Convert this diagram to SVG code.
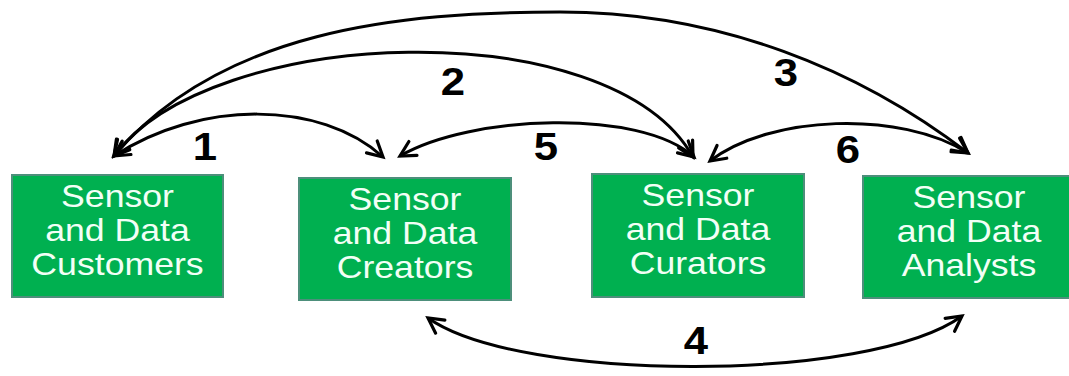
<svg xmlns="http://www.w3.org/2000/svg" width="1069" height="376" viewBox="0 0 1069 376">
  <defs>
    <!-- open chevron arrowhead, reused at both ends of every connector -->
    <marker id="head" markerUnits="userSpaceOnUse" markerWidth="30" markerHeight="30" viewBox="-20 -15 30 30" refX="0" refY="0" orient="auto-start-reverse" overflow="visible">
      <path d="M -15 -8 L 0 0 L -15 8" fill="none" stroke="#000" stroke-width="3.2" stroke-linejoin="miter" stroke-linecap="round"/>
    </marker>
    <style>
      .box { fill: #00b050; stroke: #4d8f7b; stroke-width: 2; }
      .lbl { font-family: "Liberation Sans", Arial, sans-serif; font-size: 31px; fill: #f2fff6; text-anchor: middle; }
      .num { font-family: "Liberation Sans", Arial, sans-serif; font-size: 38px; font-weight: bold; fill: #000; text-anchor: middle; }
      .link { fill: none; stroke: #000; stroke-width: 3; marker-start: url(#head); marker-end: url(#head); }
    </style>
  </defs>

  <rect width="1069" height="376" fill="#fff"/>

  <!-- connectors -->
  <g id="connectors">
    <path id="link-1" class="link" d="M 114,156 C 200,100 320,100 383,157"/>
    <path id="link-2" class="link" d="M 114,156 C 210,25 610,10 693,157"/>
    <path id="link-3" class="link" d="M 114,156 C 220,30 400,12 560,12 C 720,12 860,70 968,153"/>
    <path id="link-5" class="link" d="M 400,156 C 470,115 640,108 694,157"/>
    <path id="link-6" class="link" d="M 710,161 C 770,115 900,110 968,153"/>
    <path id="link-4" class="link" d="M 428,318 C 520,383 870,383 962,316"/>
  </g>

  <!-- connector numbers -->
  <g id="numbers">
    <text class="num" transform="translate(205 160) scale(1.15 1)">1</text>
    <text class="num" transform="translate(453 95) scale(1.15 1)">2</text>
    <text class="num" transform="translate(786 86) scale(1.15 1)">3</text>
    <text class="num" transform="translate(696 354) scale(1.15 1)">4</text>
    <text class="num" transform="translate(546 160) scale(1.15 1)">5</text>
    <text class="num" transform="translate(848 163) scale(1.15 1)">6</text>
  </g>

  <g id="customers">
    <rect class="box" x="12" y="175" width="211" height="122"/>
    <text class="lbl" transform="translate(117.5 207) scale(1.15 1)">Sensor</text>
    <text class="lbl" transform="translate(117.5 241) scale(1.15 1)">and Data</text>
    <text class="lbl" transform="translate(117.5 275) scale(1.15 1)">Customers</text>
  </g>

  <g id="creators">
    <rect class="box" x="299" y="178" width="212" height="122"/>
    <text class="lbl" transform="translate(405 210) scale(1.15 1)">Sensor</text>
    <text class="lbl" transform="translate(405 244) scale(1.15 1)">and Data</text>
    <text class="lbl" transform="translate(405 278) scale(1.15 1)">Creators</text>
  </g>

  <g id="curators">
    <rect class="box" x="592" y="174" width="212" height="123"/>
    <text class="lbl" transform="translate(698 206) scale(1.15 1)">Sensor</text>
    <text class="lbl" transform="translate(698 240) scale(1.15 1)">and Data</text>
    <text class="lbl" transform="translate(698 274) scale(1.15 1)">Curators</text>
  </g>

  <g id="analysts">
    <rect class="box" x="863" y="176" width="212" height="122"/>
    <text class="lbl" transform="translate(969 208) scale(1.15 1)">Sensor</text>
    <text class="lbl" transform="translate(969 242) scale(1.15 1)">and Data</text>
    <text class="lbl" transform="translate(969 276) scale(1.15 1)">Analysts</text>
  </g>
</svg>
